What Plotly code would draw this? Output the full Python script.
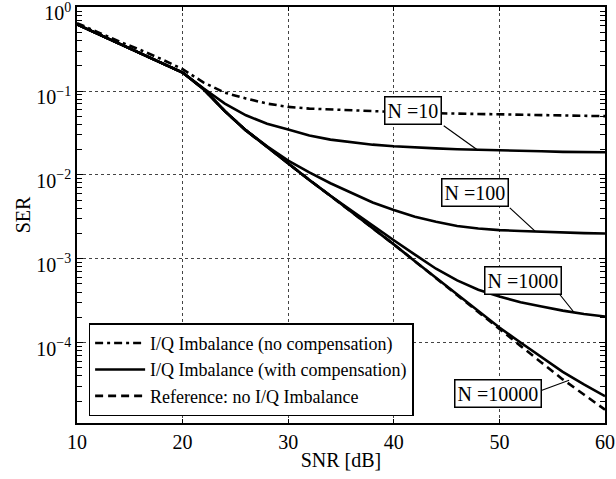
import plotly.graph_objects as go

# ---------------- data ----------------
snr_db = [10, 12, 14, 16, 18, 20, 22, 24, 26, 28, 30, 32, 34, 36, 38, 40,
          42, 44, 46, 48, 50, 52, 54, 56, 58, 60]

ser_no_comp = [0.646, 0.501, 0.389, 0.309, 0.240, 0.182, 0.126, 0.0955, 0.0813,
               0.0708, 0.0646, 0.0617, 0.0603, 0.0582, 0.0569, 0.0562, 0.0550,
               0.0543, 0.0537, 0.0531, 0.0525, 0.0519, 0.0513, 0.0509, 0.0505, 0.0501]

ser_ref = [0.624, 0.479, 0.372, 0.282, 0.219, 0.166, 0.105, 0.0575, 0.0339,
           0.0214, 0.0135, 0.0087, 0.00562, 0.00363, 0.00234, 0.00148, 9.33e-4,
           5.89e-4, 3.72e-4, 2.29e-4, 1.45e-4, 9.12e-5, 5.75e-5, 3.63e-5, 2.40e-5, 1.58e-5]

ser_n10 = [0.624, 0.479, 0.372, 0.282, 0.219, 0.166, 0.107, 0.0708, 0.0513,
           0.0407, 0.0347, 0.0295, 0.0263, 0.0243, 0.0229, 0.0219, 0.0211,
           0.0207, 0.0202, 0.0200, 0.0195, 0.0193, 0.0191, 0.0188, 0.0187, 0.0186]

ser_n100 = [0.624, 0.479, 0.372, 0.282, 0.219, 0.166, 0.105, 0.0575, 0.0339,
            0.0219, 0.0148, 0.0107, 0.00794, 0.00603, 0.00468, 0.0038, 0.00316,
            0.00275, 0.00245, 0.00229, 0.00219, 0.00214, 0.00209, 0.00204, 0.00202, 0.00200]

ser_n1000 = [0.624, 0.479, 0.372, 0.282, 0.219, 0.166, 0.105, 0.0575, 0.0339,
             0.0214, 0.0135, 0.0087, 0.00562, 0.00372, 0.00251, 0.00166, 0.00112,
             7.59e-4, 5.50e-4, 4.27e-4, 3.55e-4, 3.02e-4, 2.69e-4, 2.40e-4, 2.19e-4, 2.04e-4]

ser_n10000 = [0.624, 0.479, 0.372, 0.282, 0.219, 0.166, 0.105, 0.0575, 0.0339,
              0.0214, 0.0135, 0.0087, 0.00562, 0.00363, 0.00234, 0.00148, 9.33e-4,
              5.89e-4, 3.80e-4, 2.40e-4, 1.51e-4, 1.00e-4, 6.61e-5, 4.47e-5, 3.16e-5, 2.29e-5]

x_ticks = [10, 20, 30, 40, 50, 60]
y_tickvals = [1, 0.1, 0.01, 0.001, 0.0001]
y_ticktext = ["10<sup>0</sup>", "10<sup>\u22121</sup>", "10<sup>\u22122</sup>",
              "10<sup>\u22123</sup>", "10<sup>\u22124</sup>"]

legend_names = ["I/Q Imbalance (no compensation)",
                "I/Q Imbalance (with compensation)",
                "Reference: no I/Q Imbalance"]

# label boxes: text, box centre (dB, log10 SER), pointer tip (dB, log10 SER), tail offset px
labels = [
    ("N =10",    41.8, -1.232, 47.9, -1.700, -35, -25),
    ("N =100",   47.7, -2.210, 53.4, -2.675, -27, -25),
    ("N =1000",  52.2, -3.256, 57.1, -3.645, -16, -20),
    ("N =10000", 49.9, -4.610, 56.6, -4.450, -30, 11),
]

FONT = "Liberation Serif"
LW = 2.6

fig = go.Figure()

fig.add_trace(go.Scatter(x=snr_db, y=ser_no_comp, mode="lines", name=legend_names[0],
                         line=dict(color="black", width=LW, dash="8px,4px,3px,4px")))
for i, s in enumerate([ser_n10, ser_n100, ser_n1000, ser_n10000]):
    fig.add_trace(go.Scatter(x=snr_db, y=s, mode="lines", name=legend_names[1],
                             showlegend=(i == 0), legendgroup="comp",
                             line=dict(color="black", width=LW)))
fig.add_trace(go.Scatter(x=snr_db, y=ser_ref, mode="lines", name=legend_names[2],
                         line=dict(color="black", width=LW, dash="8px,5px")))

for text, bx, by, tx, ty, ax, ay in labels:
    fig.add_annotation(x=tx, y=ty, xref="x", yref="y", text="", showarrow=True,
                       arrowhead=0, arrowwidth=1.2, arrowcolor="black",
                       ax=ax, ay=ay, standoff=0, startstandoff=0)
    fig.add_annotation(x=bx, y=by, xref="x", yref="y", text=text, showarrow=False,
                       font=dict(family=FONT, size=20, color="black"),
                       bgcolor="white", bordercolor="black", borderwidth=1.5, borderpad=2)

fig.update_xaxes(range=[10, 60], tickvals=x_ticks, ticks="inside", ticklen=4,
                 tickcolor="black", showline=True, linecolor="black", linewidth=1.5,
                 mirror="ticks", showgrid=True, gridcolor="#444", griddash="dot",
                 gridwidth=1, zeroline=False, automargin=False,
                 ticklabeloverflow="allow",
                 title=dict(text="SNR [dB]", font=dict(family=FONT, size=20, color="black"),
                            standoff=1),
                 tickfont=dict(family=FONT, size=20, color="black"))

fig.update_yaxes(type="log", range=[-4.96, 0.002], tickvals=y_tickvals, ticktext=y_ticktext,
                 ticks="inside", ticklen=6, tickcolor="black", showline=True,
                 linecolor="black", linewidth=1.5, mirror="ticks", showgrid=True,
                 gridcolor="#444", griddash="dot", gridwidth=1, zeroline=False,
                 automargin=False, ticklabeloverflow="allow", ticklabelshift=6,
                 minor=dict(ticks="inside", ticklen=5, tickcolor="black", dtick="D1",
                            showgrid=False),
                 title=dict(text="SER", font=dict(family=FONT, size=20, color="black"),
                            standoff=0),
                 tickfont=dict(family=FONT, size=20, color="black"))

fig.update_layout(
    width=616, height=479,
    margin=dict(l=77, r=11, t=7, b=56, autoexpand=False),
    plot_bgcolor="white", paper_bgcolor="white",
    font=dict(family=FONT, size=20, color="black"),
    showlegend=True,
    legend=dict(x=0.022, y=0.016, xanchor="left", yanchor="bottom",
                bgcolor="white", bordercolor="black", borderwidth=1.5,
                font=dict(family=FONT, size=18, color="black"),
                itemwidth=50, tracegroupgap=0),
)

fig.write_html("out.html", config={"displayModeBar": False},
               post_script="document.body.style.margin='0px';"
                           "document.body.style.overflow='hidden';")
